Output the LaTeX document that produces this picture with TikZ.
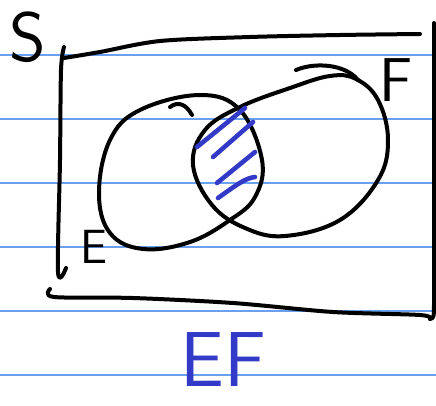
\documentclass[tikz,border=0pt]{standalone}
\usepackage{tikz}
\usetikzlibrary{calc}
\definecolor{rulecol}{RGB}{105,160,240}
\definecolor{inkblue}{RGB}{52,58,200}

\begin{document}
\begin{tikzpicture}[x=1pt,y=-1pt,
    pen/.style={line width=4pt, line cap=round, line join=round},
    hatch/.style={inkblue, line width=4.6pt, line cap=round}]
        % Page size 436 x 406, y measured downwards
        \useasboundingbox (0,0) rectangle (436,406);

        % Ruled paper
        \foreach \ry in {55,119,183,247,311,375}
            \draw[rulecol, line width=1.2pt] (0,\ry) -- (436,\ry);

        % Sample space S (hand drawn box)
        \draw[pen] plot[smooth] coordinates {(64,58) (100,52) (160,41) (250,37) (340,35) (420,34)};
        \draw[pen] plot[smooth] coordinates {(64,47) (61,70) (60,160) (58,272) (66,268)};
        \draw[pen] plot[smooth] coordinates {(50,289) (54,297) (133,298) (233,303) (333,312) (420,315) (430,319)};
        \draw[pen] (430,319) .. controls (434,318) .. (434,300) -- (434,23);

        % Event E
        \draw[pen] plot[smooth cycle, tension=0.65] coordinates {(99,193) (110,140) (140,110) (200,95) (240,110)
            (262,160) (255,197) (230,220) (190,242) (143,249) (110,233)};
        \draw[pen] (170,107) .. controls (178,101) and (186,104) .. (192,115);

        % Event F
        \draw[pen] plot[smooth cycle, tension=0.65] coordinates {(193,165) (205,130) (240,107) (290,88) (330,76)
            (356,79) (378,100) (388,140) (378,180) (340,220) (285,236) (245,228) (212,205)};
        \draw[pen] (296,70) .. controls (315,62) and (345,64) .. (358,80);

        % Intersection EF (shaded)
        \draw[hatch] (197,147) -- (245,108);
        \draw[hatch] (213,157) -- (253,122);
        \draw[hatch] (217,183) -- (255,152);
        \draw[hatch] (218,198) .. controls (235,186) and (245,178) .. (255,177);

        % Labels
        \node[inner sep=0pt, font=\sffamily\fontsize{70}{70}\selectfont] (lblS) at (28,37) {S};
        \node[inner sep=0pt, font=\sffamily\fontsize{48}{48}\selectfont] (lblE) at (94,247) {E};
        \node[inner sep=0pt, font=\sffamily\fontsize{62}{62}\selectfont] (lblF) at (396,80) {F};
        \node[inner sep=0pt, inkblue, font=\sffamily\fontsize{78}{78}\selectfont] (lblEF) at (223,360) {EF};
    \end{tikzpicture}
\end{document}
